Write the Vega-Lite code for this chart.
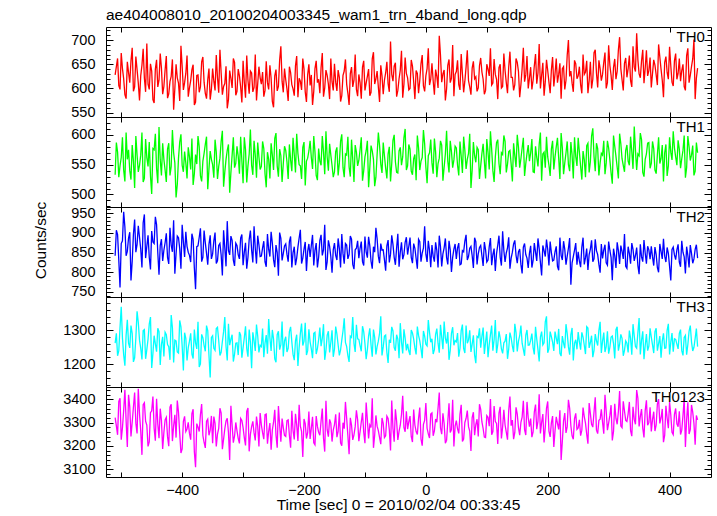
{
"$schema":"https://vega.github.io/schema/vega-lite/v6.json",
"background":"white",
"padding":{"left":33,"top":7,"right":5,"bottom":0},
"datasets":{"lc":[
{"t":-510,"a":628,"b":533,"c":842,"d":1262,"e":3322},
{"t":-506,"a":662,"b":571,"c":896,"d":1225,"e":3248},
{"t":-502,"a":598,"b":548,"c":761,"d":1308,"e":3405},
{"t":-498,"a":641,"b":596,"c":880,"d":1277,"e":3278},
{"t":-494,"a":587,"b":522,"c":915,"d":1196,"e":3441},
{"t":-490,"a":655,"b":559,"c":853,"d":1331,"e":3196},
{"t":-486,"a":612,"b":540,"c":902,"d":1248,"e":3368},
{"t":-482,"a":684,"b":583,"c":828,"d":1290,"e":3302},
{"t":-478,"a":603,"b":511,"c":934,"d":1219,"e":3429},
{"t":-474,"a":639,"b":566,"c":871,"d":1356,"e":3254},
{"t":-470,"a":575,"b":549,"c":889,"d":1271,"e":3337},
{"t":-466,"a":648,"b":604,"c":812,"d":1214,"e":3162},
{"t":-462,"a":621,"b":527,"c":947,"d":1302,"e":3385},
{"t":-458,"a":693,"b":562,"c":866,"d":1243,"e":3290},
{"t":-454,"a":598,"b":588,"c":838,"d":1318,"e":3218},
{"t":-450,"a":636,"b":501,"c":905,"d":1189,"e":3351},
{"t":-446,"a":570,"b":575,"c":873,"d":1284,"e":3276},
{"t":-442,"a":659,"b":544,"c":921,"d":1237,"e":3402},
{"t":-438,"a":617,"b":613,"c":794,"d":1296,"e":3233},
{"t":-434,"a":642,"b":532,"c":884,"d":1259,"e":3310},
{"t":-430,"a":604,"b":559,"c":856,"d":1223,"e":3258},
{"t":-426,"a":667,"b":521,"c":899,"d":1287,"e":3323},
{"t":-422,"a":589,"b":586,"c":821,"d":1252,"e":3199},
{"t":-418,"a":625,"b":547,"c":869,"d":1345,"e":3379},
{"t":-414,"a":556,"b":570,"c":932,"d":1205,"e":3287},
{"t":-410,"a":650,"b":495,"c":847,"d":1269,"e":3236},
{"t":-406,"a":611,"b":561,"c":888,"d":1233,"e":3344},
{"t":-402,"a":688,"b":601,"c":809,"d":1310,"e":3170},
{"t":-398,"a":597,"b":538,"c":878,"d":1182,"e":3306},
{"t":-394,"a":631,"b":553,"c":903,"d":1276,"e":3262},
{"t":-390,"a":583,"b":579,"c":851,"d":1249,"e":3301},
{"t":-386,"a":616,"b":542,"c":826,"d":1291,"e":3227},
{"t":-382,"a":649,"b":516,"c":884,"d":1217,"e":3358},
{"t":-378,"a":572,"b":567,"c":757,"d":1263,"e":3109},
{"t":-374,"a":628,"b":598,"c":867,"d":1325,"e":3281},
{"t":-370,"a":603,"b":531,"c":912,"d":1201,"e":3334},
{"t":-366,"a":665,"b":556,"c":838,"d":1278,"e":3245},
{"t":-362,"a":590,"b":584,"c":875,"d":1238,"e":3192},
{"t":-358,"a":618,"b":509,"c":819,"d":1299,"e":3315},
{"t":-354,"a":577,"b":573,"c":894,"d":1161,"e":3268},
{"t":-350,"a":641,"b":550,"c":846,"d":1284,"e":3212},
{"t":-346,"a":596,"b":592,"c":901,"d":1241,"e":3297},
{"t":-342,"a":622,"b":526,"c":829,"d":1309,"e":3251},
{"t":-338,"a":680,"b":561,"c":873,"d":1226,"e":3362},
{"t":-334,"a":587,"b":607,"c":792,"d":1267,"e":3186},
{"t":-330,"a":610,"b":538,"c":862,"d":1339,"e":3274},
{"t":-326,"a":559,"b":574,"c":930,"d":1211,"e":3319},
{"t":-322,"a":637,"b":503,"c":844,"d":1256,"e":3140},
{"t":-318,"a":601,"b":566,"c":881,"d":1287,"e":3288},
{"t":-314,"a":654,"b":545,"c":816,"d":1230,"e":3243},
{"t":-310,"a":594,"b":581,"c":868,"d":1263,"e":3265},
{"t":-306,"a":626,"b":535,"c":834,"d":1295,"e":3211},
{"t":-302,"a":571,"b":557,"c":896,"d":1219,"e":3309},
{"t":-298,"a":613,"b":596,"c":851,"d":1278,"e":3236},
{"t":-294,"a":668,"b":520,"c":809,"d":1246,"e":3348},
{"t":-290,"a":589,"b":568,"c":883,"d":1302,"e":3177},
{"t":-286,"a":632,"b":549,"c":857,"d":1188,"e":3283},
{"t":-282,"a":602,"b":590,"c":917,"d":1270,"e":3256},
{"t":-278,"a":575,"b":528,"c":822,"d":1317,"e":3326},
{"t":-274,"a":645,"b":563,"c":870,"d":1235,"e":3198},
{"t":-270,"a":609,"b":547,"c":841,"d":1252,"e":3290},
{"t":-266,"a":583,"b":577,"c":879,"d":1221,"e":3229},
{"t":-262,"a":656,"b":512,"c":814,"d":1286,"e":3337},
{"t":-258,"a":598,"b":559,"c":858,"d":1333,"e":3263},
{"t":-254,"a":621,"b":586,"c":903,"d":1239,"e":3184},
{"t":-250,"a":561,"b":541,"c":832,"d":1274,"e":3302},
{"t":-246,"a":639,"b":603,"c":869,"d":1206,"e":3247},
{"t":-242,"a":604,"b":530,"c":791,"d":1297,"e":3371},
{"t":-238,"a":687,"b":565,"c":886,"d":1258,"e":3218},
{"t":-234,"a":592,"b":552,"c":848,"d":1223,"e":3279},
{"t":-230,"a":618,"b":574,"c":872,"d":1281,"e":3241},
{"t":-226,"a":574,"b":526,"c":827,"d":1247,"e":3312},
{"t":-222,"a":633,"b":558,"c":891,"d":1310,"e":3193},
{"t":-218,"a":599,"b":595,"c":850,"d":1229,"e":3267},
{"t":-214,"a":647,"b":537,"c":818,"d":1269,"e":3338},
{"t":-210,"a":582,"b":569,"c":864,"d":1195,"e":3222},
{"t":-206,"a":615,"b":548,"c":908,"d":1291,"e":3285},
{"t":-202,"a":662,"b":579,"c":836,"d":1255,"e":3153},
{"t":-198,"a":593,"b":515,"c":877,"d":1322,"e":3296},
{"t":-194,"a":628,"b":561,"c":853,"d":1240,"e":3257},
{"t":-190,"a":606,"b":590,"c":839,"d":1266,"e":3230},
{"t":-186,"a":566,"b":543,"c":895,"d":1218,"e":3325},
{"t":-182,"a":641,"b":571,"c":856,"d":1294,"e":3205},
{"t":-178,"a":612,"b":524,"c":812,"d":1246,"e":3284},
{"t":-174,"a":590,"b":556,"c":881,"d":1308,"e":3246},
{"t":-170,"a":673,"b":598,"c":843,"d":1277,"e":3361},
{"t":-166,"a":601,"b":534,"c":921,"d":1213,"e":3176},
{"t":-162,"a":627,"b":563,"c":826,"d":1285,"e":3270},
{"t":-158,"a":578,"b":585,"c":866,"d":1235,"e":3314},
{"t":-154,"a":614,"b":549,"c":799,"d":1300,"e":3219},
{"t":-150,"a":651,"b":538,"c":874,"d":1244,"e":3292},
{"t":-146,"a":595,"b":579,"c":831,"d":1289,"e":3238},
{"t":-142,"a":623,"b":553,"c":860,"d":1226,"e":3343},
{"t":-138,"a":585,"b":601,"c":897,"d":1271,"e":3201},
{"t":-134,"a":636,"b":529,"c":822,"d":1335,"e":3274},
{"t":-130,"a":609,"b":566,"c":869,"d":1252,"e":3319},
{"t":-126,"a":566,"b":546,"c":845,"d":1207,"e":3165},
{"t":-122,"a":644,"b":592,"c":884,"d":1279,"e":3289},
{"t":-118,"a":617,"b":521,"c":808,"d":1261,"e":3248},
{"t":-114,"a":598,"b":571,"c":861,"d":1316,"e":3353},
{"t":-110,"a":629,"b":557,"c":836,"d":1273,"e":3221},
{"t":-106,"a":579,"b":596,"c":878,"d":1238,"e":3303},
{"t":-102,"a":657,"b":540,"c":817,"d":1296,"e":3259},
{"t":-98,"a":611,"b":573,"c":852,"d":1215,"e":3386},
{"t":-94,"a":640,"b":512,"c":890,"d":1283,"e":3232},
{"t":-90,"a":592,"b":582,"c":828,"d":1257,"e":3279},
{"t":-86,"a":675,"b":559,"c":865,"d":1302,"e":3192},
{"t":-82,"a":620,"b":529,"c":913,"d":1229,"e":3331},
{"t":-78,"a":603,"b":604,"c":841,"d":1268,"e":3266},
{"t":-74,"a":648,"b":551,"c":873,"d":1341,"e":3208},
{"t":-70,"a":588,"b":587,"c":857,"d":1251,"e":3297},
{"t":-66,"a":632,"b":544,"c":804,"d":1286,"e":3244},
{"t":-62,"a":610,"b":568,"c":882,"d":1204,"e":3318},
{"t":-58,"a":697,"b":522,"c":846,"d":1263,"e":3181},
{"t":-54,"a":615,"b":591,"c":871,"d":1298,"e":3275},
{"t":-50,"a":653,"b":555,"c":819,"d":1240,"e":3357},
{"t":-46,"a":596,"b":536,"c":898,"d":1274,"e":3226},
{"t":-42,"a":638,"b":579,"c":851,"d":1321,"e":3289},
{"t":-38,"a":581,"b":563,"c":833,"d":1232,"e":3415},
{"t":-34,"a":664,"b":610,"c":876,"d":1277,"e":3261},
{"t":-30,"a":622,"b":548,"c":845,"d":1260,"e":3272},
{"t":-26,"a":600,"b":576,"c":888,"d":1227,"e":3328},
{"t":-22,"a":646,"b":533,"c":823,"d":1292,"e":3217},
{"t":-18,"a":578,"b":567,"c":861,"d":1248,"e":3290},
{"t":-14,"a":631,"b":599,"c":809,"d":1311,"e":3249},
{"t":-10,"a":617,"b":541,"c":878,"d":1269,"e":3365},
{"t":-6,"a":669,"b":562,"c":849,"d":1218,"e":3201},
{"t":-2,"a":594,"b":585,"c":917,"d":1283,"e":3310},
{"t":2,"a":641,"b":519,"c":826,"d":1254,"e":3276},
{"t":6,"a":607,"b":570,"c":856,"d":1293,"e":3234},
{"t":10,"a":652,"b":553,"c":869,"d":1275,"e":3342},
{"t":14,"a":587,"b":594,"c":827,"d":1243,"e":3265},
{"t":18,"a":625,"b":529,"c":855,"d":1305,"e":3302},
{"t":22,"a":709,"b":561,"c":893,"d":1234,"e":3429},
{"t":26,"a":613,"b":583,"c":815,"d":1280,"e":3251},
{"t":30,"a":638,"b":546,"c":862,"d":1326,"e":3296},
{"t":34,"a":599,"b":607,"c":838,"d":1261,"e":3224},
{"t":38,"a":660,"b":537,"c":880,"d":1213,"e":3383},
{"t":42,"a":621,"b":572,"c":801,"d":1291,"e":3270},
{"t":46,"a":584,"b":558,"c":859,"d":1256,"e":3198},
{"t":50,"a":635,"b":578,"c":834,"d":1266,"e":3309},
{"t":54,"a":608,"b":532,"c":874,"d":1222,"e":3254},
{"t":58,"a":671,"b":564,"c":821,"d":1299,"e":3377},
{"t":62,"a":592,"b":597,"c":852,"d":1247,"e":3230},
{"t":66,"a":644,"b":543,"c":895,"d":1314,"e":3318},
{"t":70,"a":616,"b":569,"c":840,"d":1271,"e":3283},
{"t":74,"a":587,"b":511,"c":866,"d":1236,"e":3179},
{"t":78,"a":656,"b":588,"c":811,"d":1285,"e":3345},
{"t":82,"a":624,"b":554,"c":878,"d":1203,"e":3292},
{"t":86,"a":601,"b":575,"c":847,"d":1279,"e":3241},
{"t":90,"a":663,"b":548,"c":868,"d":1249,"e":3357},
{"t":94,"a":619,"b":585,"c":816,"d":1308,"e":3275},
{"t":98,"a":596,"b":527,"c":857,"d":1265,"e":3236},
{"t":102,"a":640,"b":571,"c":831,"d":1221,"e":3323},
{"t":106,"a":683,"b":606,"c":887,"d":1287,"e":3401},
{"t":110,"a":611,"b":540,"c":845,"d":1240,"e":3262},
{"t":114,"a":629,"b":563,"c":803,"d":1330,"e":3305},
{"t":118,"a":578,"b":592,"c":869,"d":1258,"e":3209},
{"t":122,"a":650,"b":534,"c":838,"d":1277,"e":3368},
{"t":126,"a":604,"b":567,"c":904,"d":1232,"e":3282},
{"t":130,"a":637,"b":589,"c":826,"d":1268,"e":3290},
{"t":134,"a":590,"b":551,"c":862,"d":1216,"e":3227},
{"t":138,"a":676,"b":574,"c":809,"d":1293,"e":3412},
{"t":142,"a":623,"b":522,"c":851,"d":1253,"e":3311},
{"t":146,"a":608,"b":565,"c":881,"d":1319,"e":3258},
{"t":150,"a":654,"b":600,"c":823,"d":1238,"e":3337},
{"t":154,"a":582,"b":545,"c":859,"d":1284,"e":3246},
{"t":158,"a":641,"b":578,"c":797,"d":1262,"e":3324},
{"t":162,"a":614,"b":531,"c":873,"d":1225,"e":3270},
{"t":166,"a":667,"b":569,"c":836,"d":1301,"e":3389},
{"t":170,"a":621,"b":556,"c":848,"d":1257,"e":3283},
{"t":174,"a":598,"b":593,"c":812,"d":1290,"e":3238},
{"t":178,"a":647,"b":537,"c":874,"d":1229,"e":3346},
{"t":182,"a":610,"b":562,"c":829,"d":1274,"e":3272},
{"t":186,"a":692,"b":584,"c":860,"d":1208,"e":3422},
{"t":190,"a":627,"b":523,"c":792,"d":1296,"e":3301},
{"t":194,"a":585,"b":571,"c":855,"d":1263,"e":3215},
{"t":198,"a":659,"b":597,"c":883,"d":1341,"e":3362},
{"t":202,"a":613,"b":549,"c":817,"d":1245,"e":3264},
{"t":206,"a":638,"b":576,"c":850,"d":1281,"e":3299},
{"t":210,"a":604,"b":542,"c":831,"d":1239,"e":3196},
{"t":214,"a":662,"b":580,"c":866,"d":1277,"e":3325},
{"t":218,"a":629,"b":561,"c":805,"d":1304,"e":3271},
{"t":222,"a":579,"b":603,"c":843,"d":1224,"e":3140},
{"t":226,"a":645,"b":534,"c":879,"d":1262,"e":3308},
{"t":230,"a":617,"b":570,"c":819,"d":1318,"e":3256},
{"t":234,"a":700,"b":550,"c":861,"d":1251,"e":3398},
{"t":238,"a":636,"b":588,"c":768,"d":1287,"e":3287},
{"t":242,"a":593,"b":527,"c":840,"d":1211,"e":3229},
{"t":246,"a":651,"b":564,"c":874,"d":1272,"e":3340},
{"t":250,"a":626,"b":595,"c":852,"d":1295,"e":3277},
{"t":254,"a":608,"b":547,"c":813,"d":1243,"e":3244},
{"t":258,"a":670,"b":573,"c":888,"d":1280,"e":3365},
{"t":262,"a":634,"b":529,"c":837,"d":1230,"e":3298},
{"t":266,"a":590,"b":586,"c":806,"d":1307,"e":3210},
{"t":270,"a":655,"b":555,"c":859,"d":1264,"e":3339},
{"t":274,"a":619,"b":611,"c":827,"d":1221,"e":3281},
{"t":278,"a":680,"b":539,"c":884,"d":1289,"e":3409},
{"t":282,"a":602,"b":577,"c":845,"d":1255,"e":3253},
{"t":286,"a":641,"b":553,"c":799,"d":1325,"e":3315},
{"t":290,"a":629,"b":566,"c":835,"d":1268,"e":3302},
{"t":294,"a":674,"b":534,"c":870,"d":1236,"e":3420},
{"t":298,"a":612,"b":590,"c":818,"d":1297,"e":3268},
{"t":302,"a":648,"b":558,"c":856,"d":1250,"e":3331},
{"t":306,"a":597,"b":518,"c":780,"d":1283,"e":3224},
{"t":310,"a":661,"b":581,"c":842,"d":1217,"e":3381},
{"t":314,"a":635,"b":546,"c":876,"d":1310,"e":3293},
{"t":318,"a":706,"b":602,"c":821,"d":1259,"e":3436},
{"t":322,"a":618,"b":560,"c":853,"d":1276,"e":3279},
{"t":326,"a":652,"b":538,"c":897,"d":1241,"e":3350},
{"t":330,"a":623,"b":583,"c":810,"d":1262,"e":3305},
{"t":334,"a":668,"b":549,"c":848,"d":1299,"e":3389},
{"t":338,"a":603,"b":572,"c":874,"d":1228,"e":3242},
{"t":342,"a":644,"b":614,"c":829,"d":1284,"e":3314},
{"t":346,"a":714,"b":541,"c":863,"d":1247,"e":3440},
{"t":350,"a":630,"b":565,"c":795,"d":1336,"e":3284},
{"t":354,"a":657,"b":592,"c":839,"d":1271,"e":3358},
{"t":358,"a":611,"b":530,"c":882,"d":1215,"e":3237},
{"t":362,"a":679,"b":568,"c":822,"d":1289,"e":3396},
{"t":366,"a":637,"b":587,"c":857,"d":1253,"e":3300},
{"t":370,"a":602,"b":552,"c":866,"d":1280,"e":3262},
{"t":374,"a":659,"b":577,"c":817,"d":1233,"e":3347},
{"t":378,"a":628,"b":535,"c":845,"d":1306,"e":3290},
{"t":382,"a":691,"b":596,"c":800,"d":1261,"e":3401},
{"t":386,"a":640,"b":560,"c":853,"d":1219,"e":3320},
{"t":390,"a":582,"b":522,"c":885,"d":1291,"e":3216},
{"t":394,"a":666,"b":584,"c":826,"d":1248,"e":3372},
{"t":398,"a":619,"b":548,"c":848,"d":1319,"e":3276},
{"t":402,"a":647,"b":571,"c":779,"d":1265,"e":3333},
{"t":406,"a":605,"b":606,"c":864,"d":1237,"e":3249},
{"t":410,"a":672,"b":563,"c":832,"d":1273,"e":3361},
{"t":414,"a":631,"b":591,"c":871,"d":1245,"e":3283},
{"t":418,"a":615,"b":544,"c":814,"d":1302,"e":3249},
{"t":422,"a":650,"b":574,"c":851,"d":1226,"e":3330},
{"t":426,"a":596,"b":528,"c":797,"d":1285,"e":3196},
{"t":430,"a":683,"b":598,"c":843,"d":1258,"e":3387},
{"t":434,"a":627,"b":557,"c":869,"d":1314,"e":3270},
{"t":438,"a":661,"b":582,"c":823,"d":1239,"e":3345},
{"t":442,"a":578,"b":539,"c":858,"d":1276,"e":3205},
{"t":446,"a":642,"b":570,"c":836,"d":1252,"e":3312},
{"t":-508,"a":645,"b":587,"c":907,"d":1291,"e":3286},
{"t":-504,"a":606,"b":529,"c":831,"d":1240,"e":3391},
{"t":-500,"a":673,"b":562,"c":873,"d":1369,"e":3227},
{"t":-496,"a":620,"b":541,"c":954,"d":1228,"e":3352},
{"t":-492,"a":579,"b":604,"c":842,"d":1285,"e":3308},
{"t":-488,"a":633,"b":575,"c":887,"d":1262,"e":3420},
{"t":-484,"a":657,"b":525,"c":779,"d":1314,"e":3241},
{"t":-480,"a":594,"b":556,"c":896,"d":1207,"e":3366},
{"t":-476,"a":666,"b":598,"c":851,"d":1278,"e":3298},
{"t":-472,"a":611,"b":538,"c":918,"d":1323,"e":3445},
{"t":-468,"a":626,"b":566,"c":859,"d":1247,"e":3264},
{"t":-464,"a":682,"b":521,"c":926,"d":1299,"e":3377},
{"t":-460,"a":593,"b":593,"c":836,"d":1216,"e":3306},
{"t":-456,"a":609,"b":547,"c":894,"d":1274,"e":3198},
{"t":-452,"a":651,"b":531,"c":807,"d":1339,"e":3343},
{"t":-448,"a":577,"b":577,"c":877,"d":1232,"e":3412},
{"t":-444,"a":640,"b":602,"c":941,"d":1260,"e":3223},
{"t":-440,"a":603,"b":519,"c":850,"d":1306,"e":3295},
{"t":-436,"a":672,"b":558,"c":868,"d":1198,"e":3360},
{"t":-432,"a":588,"b":586,"c":829,"d":1281,"e":3187},
{"t":-428,"a":638,"b":541,"c":875,"d":1294,"e":3312},
{"t":-424,"a":580,"b":576,"c":838,"d":1258,"e":3240},
{"t":-420,"a":614,"b":532,"c":913,"d":1213,"e":3367},
{"t":-416,"a":660,"b":608,"c":852,"d":1307,"e":3221},
{"t":-412,"a":600,"b":553,"c":796,"d":1271,"e":3334},
{"t":-408,"a":622,"b":517,"c":892,"d":1236,"e":3395},
{"t":-404,"a":574,"b":588,"c":860,"d":1329,"e":3253},
{"t":-400,"a":646,"b":549,"c":921,"d":1254,"e":3188},
{"t":-396,"a":612,"b":572,"c":839,"d":1293,"e":3327},
{"t":-392,"a":668,"b":527,"c":866,"d":1211,"e":3273},
{"t":-388,"a":601,"b":563,"c":843,"d":1268,"e":3254},
{"t":-384,"a":639,"b":594,"c":898,"d":1230,"e":3339},
{"t":-380,"a":566,"b":535,"c":811,"d":1302,"e":3175},
{"t":-376,"a":627,"b":551,"c":865,"d":1245,"e":3296},
{"t":-372,"a":592,"b":580,"c":889,"d":1192,"e":3262},
{"t":-368,"a":655,"b":522,"c":827,"d":1288,"e":3380},
{"t":-364,"a":613,"b":569,"c":906,"d":1255,"e":3215},
{"t":-360,"a":579,"b":597,"c":848,"d":1314,"e":3306},
{"t":-356,"a":641,"b":543,"c":871,"d":1226,"e":3246},
{"t":-352,"a":598,"b":559,"c":834,"d":1279,"e":3329},
{"t":-348,"a":615,"b":528,"c":880,"d":1247,"e":3326},
{"t":-344,"a":669,"b":571,"c":822,"d":1305,"e":3198},
{"t":-340,"a":591,"b":547,"c":868,"d":1270,"e":3275},
{"t":-336,"a":632,"b":589,"c":844,"d":1235,"e":3341},
{"t":-332,"a":604,"b":513,"c":907,"d":1296,"e":3229},
{"t":-328,"a":646,"b":559,"c":815,"d":1253,"e":3307},
{"t":-324,"a":577,"b":584,"c":855,"d":1319,"e":3257},
{"t":-320,"a":621,"b":537,"c":892,"d":1274,"e":3372},
{"t":-316,"a":662,"b":596,"c":831,"d":1208,"e":3214},
{"t":-312,"a":586,"b":552,"c":874,"d":1262,"e":3301},
{"t":-308,"a":640,"b":564,"c":845,"d":1227,"e":3233},
{"t":-304,"a":603,"b":597,"c":887,"d":1286,"e":3318},
{"t":-300,"a":657,"b":519,"c":818,"d":1249,"e":3279},
{"t":-296,"a":581,"b":575,"c":875,"d":1312,"e":3202},
{"t":-292,"a":617,"b":548,"c":838,"d":1222,"e":3363},
{"t":-288,"a":636,"b":609,"c":906,"d":1265,"e":3250},
{"t":-284,"a":593,"b":533,"c":825,"d":1294,"e":3306},
{"t":-280,"a":670,"b":566,"c":861,"d":1239,"e":3224},
{"t":-276,"a":610,"b":587,"c":893,"d":1283,"e":3284},
{"t":-272,"a":622,"b":542,"c":840,"d":1256,"e":3341},
{"t":-268,"a":634,"b":589,"c":862,"d":1305,"e":3257},
{"t":-264,"a":596,"b":535,"c":826,"d":1262,"e":3334},
{"t":-260,"a":612,"b":571,"c":897,"d":1231,"e":3210},
{"t":-256,"a":648,"b":527,"c":840,"d":1278,"e":3298},
{"t":-252,"a":573,"b":566,"c":874,"d":1301,"e":3268},
{"t":-248,"a":626,"b":594,"c":813,"d":1216,"e":3355},
{"t":-244,"a":595,"b":548,"c":850,"d":1287,"e":3193},
{"t":-240,"a":658,"b":576,"c":901,"d":1243,"e":3289},
{"t":-236,"a":615,"b":521,"c":830,"d":1326,"e":3318},
{"t":-232,"a":641,"b":581,"c":867,"d":1269,"e":3245},
{"t":-228,"a":599,"b":555,"c":846,"d":1236,"e":3309},
{"t":-224,"a":645,"b":584,"c":878,"d":1296,"e":3246},
{"t":-220,"a":608,"b":539,"c":812,"d":1266,"e":3351},
{"t":-216,"a":585,"b":567,"c":865,"d":1212,"e":3228},
{"t":-212,"a":667,"b":602,"c":836,"d":1287,"e":3290},
{"t":-208,"a":621,"b":550,"c":887,"d":1249,"e":3377},
{"t":-204,"a":597,"b":526,"c":822,"d":1320,"e":3263},
{"t":-200,"a":640,"b":588,"c":859,"d":1268,"e":3316},
{"t":-196,"a":572,"b":556,"c":803,"d":1227,"e":3232},
{"t":-192,"a":650,"b":573,"c":872,"d":1303,"e":3348},
{"t":-188,"a":628,"b":562,"c":868,"d":1245,"e":3276},
{"t":-184,"a":594,"b":598,"c":817,"d":1291,"e":3214},
{"t":-180,"a":657,"b":532,"c":874,"d":1230,"e":3328},
{"t":-176,"a":619,"b":577,"c":838,"d":1272,"e":3259},
{"t":-172,"a":643,"b":549,"c":895,"d":1253,"e":3307},
{"t":-168,"a":583,"b":571,"c":857,"d":1318,"e":3233},
{"t":-164,"a":638,"b":606,"c":806,"d":1241,"e":3394},
{"t":-160,"a":609,"b":540,"c":881,"d":1297,"e":3240},
{"t":-156,"a":662,"b":566,"c":840,"d":1264,"e":3297},
{"t":-152,"a":596,"b":529,"c":857,"d":1222,"e":3268},
{"t":-148,"a":613,"b":572,"c":843,"d":1311,"e":3336},
{"t":-144,"a":638,"b":532,"c":886,"d":1257,"e":3262},
{"t":-140,"a":573,"b":589,"c":812,"d":1242,"e":3213},
{"t":-136,"a":627,"b":545,"c":848,"d":1298,"e":3300},
{"t":-132,"a":660,"b":568,"c":873,"d":1264,"e":3389},
{"t":-128,"a":590,"b":597,"c":834,"d":1225,"e":3245},
{"t":-124,"a":631,"b":530,"c":892,"d":1283,"e":3321},
{"t":-120,"a":603,"b":559,"c":820,"d":1339,"e":3226},
{"t":-116,"a":670,"b":583,"c":857,"d":1236,"e":3283},
{"t":-112,"a":584,"b":548,"c":880,"d":1275,"e":3312},
{"t":-108,"a":612,"b":575,"c":861,"d":1255,"e":3261},
{"t":-104,"a":644,"b":523,"c":827,"d":1312,"e":3342},
{"t":-100,"a":596,"b":563,"c":891,"d":1261,"e":3212},
{"t":-96,"a":625,"b":590,"c":837,"d":1243,"e":3311},
{"t":-92,"a":585,"b":545,"c":867,"d":1306,"e":3290},
{"t":-88,"a":661,"b":573,"c":809,"d":1222,"e":3405},
{"t":-84,"a":609,"b":514,"c":851,"d":1279,"e":3247},
{"t":-80,"a":636,"b":567,"c":885,"d":1252,"e":3285},
{"t":-76,"a":572,"b":582,"c":823,"d":1291,"e":3237},
{"t":-72,"a":626,"b":536,"c":856,"d":1226,"e":3320},
{"t":-68,"a":617,"b":565,"c":832,"d":1283,"e":3236},
{"t":-64,"a":655,"b":527,"c":867,"d":1235,"e":3328},
{"t":-60,"a":593,"b":580,"c":825,"d":1272,"e":3270},
{"t":-56,"a":629,"b":552,"c":894,"d":1310,"e":3395},
{"t":-52,"a":646,"b":600,"c":838,"d":1249,"e":3218},
{"t":-48,"a":583,"b":537,"c":862,"d":1287,"e":3306},
{"t":-44,"a":620,"b":573,"c":814,"d":1218,"e":3263},
{"t":-40,"a":678,"b":549,"c":876,"d":1266,"e":3335},
{"t":-36,"a":609,"b":595,"c":845,"d":1303,"e":3280},
{"t":-32,"a":631,"b":541,"c":889,"d":1241,"e":3349},
{"t":-28,"a":597,"b":584,"c":866,"d":1239,"e":3304},
{"t":-24,"a":659,"b":539,"c":838,"d":1301,"e":3241},
{"t":-20,"a":614,"b":560,"c":873,"d":1274,"e":3356},
{"t":-16,"a":637,"b":524,"c":835,"d":1229,"e":3262},
{"t":-12,"a":590,"b":578,"c":884,"d":1285,"e":3318},
{"t":-8,"a":651,"b":556,"c":827,"d":1246,"e":3230},
{"t":-4,"a":605,"b":608,"c":861,"d":1298,"e":3293},
{"t":0,"a":626,"b":546,"c":846,"d":1259,"e":3384},
{"t":4,"a":683,"b":565,"c":880,"d":1330,"e":3252},
{"t":8,"a":619,"b":592,"c":813,"d":1265,"e":3337},
{"t":12,"a":616,"b":535,"c":841,"d":1230,"e":3244},
{"t":16,"a":639,"b":571,"c":876,"d":1288,"e":3316},
{"t":20,"a":601,"b":552,"c":812,"d":1262,"e":3363},
{"t":24,"a":668,"b":590,"c":865,"d":1316,"e":3277},
{"t":28,"a":630,"b":523,"c":847,"d":1244,"e":3340},
{"t":32,"a":575,"b":568,"c":886,"d":1277,"e":3212},
{"t":36,"a":648,"b":556,"c":820,"d":1295,"e":3305},
{"t":40,"a":612,"b":590,"c":857,"d":1241,"e":3258},
{"t":44,"a":690,"b":545,"c":838,"d":1309,"e":3398},
{"t":48,"a":629,"b":581,"c":872,"d":1270,"e":3285},
{"t":52,"a":658,"b":549,"c":862,"d":1292,"e":3273},
{"t":56,"a":597,"b":589,"c":819,"d":1247,"e":3336},
{"t":60,"a":630,"b":536,"c":855,"d":1317,"e":3219},
{"t":64,"a":615,"b":574,"c":879,"d":1233,"e":3301},
{"t":68,"a":679,"b":559,"c":831,"d":1262,"e":3352},
{"t":72,"a":603,"b":602,"c":861,"d":1300,"e":3264},
{"t":76,"a":642,"b":541,"c":842,"d":1259,"e":3322},
{"t":80,"a":620,"b":565,"c":888,"d":1227,"e":3246},
{"t":84,"a":594,"b":579,"c":820,"d":1282,"e":3315},
{"t":88,"a":647,"b":526,"c":863,"d":1306,"e":3379},
{"t":92,"a":634,"b":569,"c":842,"d":1282,"e":3303},
{"t":96,"a":588,"b":556,"c":877,"d":1230,"e":3238},
{"t":100,"a":650,"b":593,"c":826,"d":1296,"e":3330},
{"t":104,"a":626,"b":542,"c":865,"d":1258,"e":3285},
{"t":108,"a":607,"b":576,"c":818,"d":1314,"e":3248},
{"t":112,"a":661,"b":521,"c":860,"d":1272,"e":3371},
{"t":116,"a":619,"b":587,"c":847,"d":1233,"e":3297},
{"t":120,"a":643,"b":552,"c":893,"d":1297,"e":3341},
{"t":124,"a":601,"b":570,"c":817,"d":1245,"e":3232},
{"t":128,"a":672,"b":599,"c":855,"d":1263,"e":3355},
{"t":132,"a":612,"b":537,"c":849,"d":1289,"e":3259},
{"t":136,"a":645,"b":572,"c":889,"d":1245,"e":3353},
{"t":140,"a":623,"b":551,"c":836,"d":1278,"e":3287},
{"t":144,"a":596,"b":586,"c":872,"d":1236,"e":3229},
{"t":148,"a":662,"b":546,"c":843,"d":1293,"e":3366},
{"t":152,"a":635,"b":579,"c":852,"d":1268,"e":3279},
{"t":156,"a":608,"b":560,"c":820,"d":1314,"e":3301},
{"t":160,"a":684,"b":595,"c":864,"d":1244,"e":3394},
{"t":164,"a":628,"b":552,"c":845,"d":1286,"e":3247},
{"t":168,"a":600,"b":583,"c":811,"d":1256,"e":3321},
{"t":172,"a":644,"b":570,"c":867,"d":1271,"e":3318},
{"t":176,"a":617,"b":538,"c":830,"d":1249,"e":3260},
{"t":180,"a":671,"b":581,"c":851,"d":1310,"e":3378},
{"t":184,"a":632,"b":547,"c":886,"d":1243,"e":3306},
{"t":188,"a":600,"b":604,"c":825,"d":1280,"e":3254},
{"t":192,"a":653,"b":568,"c":868,"d":1257,"e":3337},
{"t":196,"a":614,"b":545,"c":840,"d":1325,"e":3280},
{"t":200,"a":637,"b":563,"c":858,"d":1234,"e":3391},
{"t":204,"a":590,"b":531,"c":878,"d":1296,"e":3239},
{"t":208,"a":665,"b":590,"c":829,"d":1265,"e":3328},
{"t":212,"a":630,"b":563,"c":852,"d":1296,"e":3266},
{"t":216,"a":612,"b":595,"c":815,"d":1259,"e":3297},
{"t":220,"a":652,"b":526,"c":888,"d":1232,"e":3353},
{"t":224,"a":641,"b":578,"c":831,"d":1283,"e":3220},
{"t":228,"a":598,"b":553,"c":858,"d":1247,"e":3341},
{"t":232,"a":669,"b":589,"c":841,"d":1290,"e":3283},
{"t":236,"a":625,"b":539,"c":887,"d":1228,"e":3362},
{"t":240,"a":611,"b":566,"c":824,"d":1307,"e":3244},
{"t":244,"a":658,"b":596,"c":856,"d":1262,"e":3318},
{"t":248,"a":620,"b":548,"c":819,"d":1244,"e":3271},
{"t":252,"a":645,"b":571,"c":828,"d":1266,"e":3312},
{"t":256,"a":590,"b":525,"c":864,"d":1294,"e":3268},
{"t":260,"a":629,"b":558,"c":820,"d":1256,"e":3326},
{"t":264,"a":657,"b":582,"c":860,"d":1311,"e":3251},
{"t":268,"a":616,"b":537,"c":845,"d":1248,"e":3384},
{"t":272,"a":600,"b":598,"c":881,"d":1284,"e":3293},
{"t":276,"a":674,"b":564,"c":834,"d":1241,"e":3346},
{"t":280,"a":632,"b":586,"c":855,"d":1269,"e":3268},
{"t":284,"a":658,"b":532,"c":820,"d":1300,"e":3310},
{"t":288,"a":616,"b":569,"c":872,"d":1233,"e":3357},
{"t":292,"a":654,"b":590,"c":857,"d":1293,"e":3253},
{"t":296,"a":600,"b":553,"c":824,"d":1252,"e":3349},
{"t":300,"a":689,"b":578,"c":878,"d":1231,"e":3298},
{"t":304,"a":627,"b":536,"c":838,"d":1280,"e":3375},
{"t":308,"a":643,"b":599,"c":860,"d":1261,"e":3262},
{"t":312,"a":619,"b":564,"c":811,"d":1302,"e":3318},
{"t":316,"a":680,"b":527,"c":855,"d":1240,"e":3348},
{"t":320,"a":641,"b":585,"c":868,"d":1288,"e":3286},
{"t":324,"a":596,"b":549,"c":834,"d":1225,"e":3392},
{"t":328,"a":663,"b":574,"c":815,"d":1269,"e":3310},
{"t":332,"a":641,"b":556,"c":865,"d":1235,"e":3338},
{"t":336,"a":616,"b":597,"c":822,"d":1276,"e":3266},
{"t":340,"a":687,"b":543,"c":858,"d":1318,"e":3368},
{"t":344,"a":635,"b":574,"c":842,"d":1252,"e":3293},
{"t":348,"a":659,"b":568,"c":817,"d":1293,"e":3405},
{"t":352,"a":622,"b":603,"c":871,"d":1229,"e":3327},
{"t":356,"a":680,"b":537,"c":827,"d":1297,"e":3276},
{"t":360,"a":642,"b":559,"c":849,"d":1255,"e":3352},
{"t":364,"a":626,"b":586,"c":866,"d":1240,"e":3289},
{"t":368,"a":664,"b":544,"c":833,"d":1306,"e":3366},
{"t":372,"a":631,"b":589,"c":839,"d":1257,"e":3313},
{"t":376,"a":648,"b":541,"c":864,"d":1296,"e":3264},
{"t":380,"a":607,"b":567,"c":812,"d":1240,"e":3381},
{"t":384,"a":665,"b":552,"c":872,"d":1283,"e":3297},
{"t":388,"a":617,"b":583,"c":834,"d":1268,"e":3359},
{"t":392,"a":654,"b":570,"c":841,"d":1247,"e":3246},
{"t":396,"a":633,"b":531,"c":863,"d":1300,"e":3320},
{"t":400,"a":686,"b":596,"c":815,"d":1229,"e":3388},
{"t":404,"a":613,"b":558,"c":858,"d":1292,"e":3259},
{"t":408,"a":657,"b":578,"c":844,"d":1275,"e":3336},
{"t":412,"a":619,"b":549,"c":857,"d":1259,"e":3295},
{"t":416,"a":662,"b":576,"c":826,"d":1291,"e":3349},
{"t":420,"a":637,"b":560,"c":880,"d":1240,"e":3268},
{"t":424,"a":604,"b":599,"c":839,"d":1279,"e":3404},
{"t":428,"a":668,"b":545,"c":865,"d":1228,"e":3313},
{"t":432,"a":612,"b":580,"c":812,"d":1297,"e":3251},
{"t":436,"a":645,"b":566,"c":848,"d":1266,"e":3376},
{"t":440,"a":701,"b":532,"c":834,"d":1250,"e":3297},
{"t":444,"a":621,"b":587,"c":870,"d":1305,"e":3331}
]},
"data":{"name":"lc"},
"spacing":0,
"bounds":"flush",
"vconcat":[
{"width":605,"height":90,
 "title":{"text":"ae404008010_20100204003345_wam1_trn_4band_long.qdp","anchor":"start","frame":"group","font":"Liberation Sans","fontSize":15.5,"fontWeight":"normal","color":"black","baseline":"alphabetic","offset":-9},
 "layer":[
  {"mark":{"type":"line","color":"#ff0000","strokeWidth":1.3,"clip":true},
   "encoding":{"x":{"field":"t","type":"quantitative","scale":{"domain":[-525,468],"nice":false,"zero":false},"axis":{"orient":"bottom","values":[-500,-400,-300,-200,-100,0,100,200,300,400],"tickSize":-5,"labels":false,"title":null}},
    "y":{"field":"a","type":"quantitative","scale":{"domain":[541,727],"nice":false,"zero":false},"axis":{"orient":"left","values":[550,600,650,700],"format":"d","tickSize":-7,"labelPadding":18,"title":null}}}},
  {"mark":{"type":"line","opacity":0},
   "encoding":{"x":{"field":"t","type":"quantitative","axis":{"orient":"top","values":[-500,-400,-300,-200,-100,0,100,200,300,400],"tickSize":-5,"labels":false,"title":null}},
    "y":{"field":"a","type":"quantitative","axis":{"orient":"right","values":[550,600,650,700],"tickSize":-7,"labels":false,"title":null}}}},
  {"mark":{"type":"line","opacity":0},
   "encoding":{"x":{"field":"t","type":"quantitative","axis":null},
    "y":{"field":"a","type":"quantitative","axis":{"orient":"left","values":[550,560,570,580,590,600,610,620,630,640,650,660,670,680,690,700,710,720],"tickSize":-4,"labels":false,"title":null}}}},
  {"mark":{"type":"line","opacity":0},
   "encoding":{"x":{"field":"t","type":"quantitative","axis":null},
    "y":{"field":"a","type":"quantitative","axis":{"orient":"right","values":[550,560,570,580,590,600,610,620,630,640,650,660,670,680,690,700,710,720],"tickSize":-4,"labels":false,"title":null}}}},
  {"data":{"values":[{"lab":"TH0"}]},
   "mark":{"type":"text","align":"right","baseline":"top","dy":3,"font":"Liberation Sans","fontSize":15,"color":"black"},
   "encoding":{"x":{"datum":458,"type":"quantitative","axis":null},"y":{"datum":727,"type":"quantitative","axis":null},"text":{"field":"lab"}}}
 ],
 "resolve":{"axis":{"x":"independent","y":"independent"}}
},
{"width":605,"height":90,
 "layer":[
  {"mark":{"type":"line","color":"#00ff00","strokeWidth":1.3,"clip":true},
   "encoding":{"x":{"field":"t","type":"quantitative","scale":{"domain":[-525,468],"nice":false,"zero":false},"axis":{"orient":"bottom","values":[-500,-400,-300,-200,-100,0,100,200,300,400],"tickSize":-5,"labels":false,"title":null}},
    "y":{"field":"b","type":"quantitative","scale":{"domain":[479,630],"nice":false,"zero":false},"axis":{"orient":"left","values":[500,550,600],"format":"d","tickSize":-7,"labelPadding":18,"title":null}}}},
  {"mark":{"type":"line","opacity":0},
   "encoding":{"x":{"field":"t","type":"quantitative","axis":{"orient":"top","values":[-500,-400,-300,-200,-100,0,100,200,300,400],"tickSize":-5,"labels":false,"title":null}},
    "y":{"field":"b","type":"quantitative","axis":{"orient":"right","values":[500,550,600],"tickSize":-7,"labels":false,"title":null}}}},
  {"mark":{"type":"line","opacity":0},
   "encoding":{"x":{"field":"t","type":"quantitative","axis":null},
    "y":{"field":"b","type":"quantitative","axis":{"orient":"left","values":[480,490,500,510,520,530,540,550,560,570,580,590,600,610,620,630],"tickSize":-4,"labels":false,"title":null}}}},
  {"mark":{"type":"line","opacity":0},
   "encoding":{"x":{"field":"t","type":"quantitative","axis":null},
    "y":{"field":"b","type":"quantitative","axis":{"orient":"right","values":[480,490,500,510,520,530,540,550,560,570,580,590,600,610,620,630],"tickSize":-4,"labels":false,"title":null}}}},
  {"data":{"values":[{"lab":"TH1"}]},
   "mark":{"type":"text","align":"right","baseline":"top","dy":3,"font":"Liberation Sans","fontSize":15,"color":"black"},
   "encoding":{"x":{"datum":458,"type":"quantitative","axis":null},"y":{"datum":630,"type":"quantitative","axis":null},"text":{"field":"lab"}}}
 ],
 "resolve":{"axis":{"x":"independent","y":"independent"}}
},
{"width":605,"height":90,
 "layer":[
  {"mark":{"type":"line","color":"#0000ff","strokeWidth":1.3,"clip":true},
   "encoding":{"x":{"field":"t","type":"quantitative","scale":{"domain":[-525,468],"nice":false,"zero":false},"axis":{"orient":"bottom","values":[-500,-400,-300,-200,-100,0,100,200,300,400],"tickSize":-5,"labels":false,"title":null}},
    "y":{"field":"c","type":"quantitative","scale":{"domain":[737,966],"nice":false,"zero":false},"axis":{"orient":"left","values":[750,800,850,900,950],"format":"d","tickSize":-7,"labelPadding":18,"title":"Counts/sec","titlePadding":22,"titleY":33}}}},
  {"mark":{"type":"line","opacity":0},
   "encoding":{"x":{"field":"t","type":"quantitative","axis":{"orient":"top","values":[-500,-400,-300,-200,-100,0,100,200,300,400],"tickSize":-5,"labels":false,"title":null}},
    "y":{"field":"c","type":"quantitative","axis":{"orient":"right","values":[750,800,850,900,950],"tickSize":-7,"labels":false,"title":null}}}},
  {"mark":{"type":"line","opacity":0},
   "encoding":{"x":{"field":"t","type":"quantitative","axis":null},
    "y":{"field":"c","type":"quantitative","axis":{"orient":"left","values":[740,750,760,770,780,790,800,810,820,830,840,850,860,870,880,890,900,910,920,930,940,950,960],"tickSize":-4,"labels":false,"title":null}}}},
  {"mark":{"type":"line","opacity":0},
   "encoding":{"x":{"field":"t","type":"quantitative","axis":null},
    "y":{"field":"c","type":"quantitative","axis":{"orient":"right","values":[740,750,760,770,780,790,800,810,820,830,840,850,860,870,880,890,900,910,920,930,940,950,960],"tickSize":-4,"labels":false,"title":null}}}},
  {"data":{"values":[{"lab":"TH2"}]},
   "mark":{"type":"text","align":"right","baseline":"top","dy":3,"font":"Liberation Sans","fontSize":15,"color":"black"},
   "encoding":{"x":{"datum":458,"type":"quantitative","axis":null},"y":{"datum":966,"type":"quantitative","axis":null},"text":{"field":"lab"}}}
 ],
 "resolve":{"axis":{"x":"independent","y":"independent"}}
},
{"width":605,"height":90,
 "layer":[
  {"mark":{"type":"line","color":"#00ffff","strokeWidth":1.3,"clip":true},
   "encoding":{"x":{"field":"t","type":"quantitative","scale":{"domain":[-525,468],"nice":false,"zero":false},"axis":{"orient":"bottom","values":[-500,-400,-300,-200,-100,0,100,200,300,400],"tickSize":-5,"labels":false,"title":null}},
    "y":{"field":"d","type":"quantitative","scale":{"domain":[1133,1398],"nice":false,"zero":false},"axis":{"orient":"left","values":[1200,1300],"format":"d","tickSize":-7,"labelPadding":18,"title":null}}}},
  {"mark":{"type":"line","opacity":0},
   "encoding":{"x":{"field":"t","type":"quantitative","axis":{"orient":"top","values":[-500,-400,-300,-200,-100,0,100,200,300,400],"tickSize":-5,"labels":false,"title":null}},
    "y":{"field":"d","type":"quantitative","axis":{"orient":"right","values":[1200,1300],"tickSize":-7,"labels":false,"title":null}}}},
  {"mark":{"type":"line","opacity":0},
   "encoding":{"x":{"field":"t","type":"quantitative","axis":null},
    "y":{"field":"d","type":"quantitative","axis":{"orient":"left","values":[1140,1160,1180,1200,1220,1240,1260,1280,1300,1320,1340,1360,1380],"tickSize":-4,"labels":false,"title":null}}}},
  {"mark":{"type":"line","opacity":0},
   "encoding":{"x":{"field":"t","type":"quantitative","axis":null},
    "y":{"field":"d","type":"quantitative","axis":{"orient":"right","values":[1140,1160,1180,1200,1220,1240,1260,1280,1300,1320,1340,1360,1380],"tickSize":-4,"labels":false,"title":null}}}},
  {"data":{"values":[{"lab":"TH3"}]},
   "mark":{"type":"text","align":"right","baseline":"top","dy":3,"font":"Liberation Sans","fontSize":15,"color":"black"},
   "encoding":{"x":{"datum":458,"type":"quantitative","axis":null},"y":{"datum":1398,"type":"quantitative","axis":null},"text":{"field":"lab"}}}
 ],
 "resolve":{"axis":{"x":"independent","y":"independent"}}
},
{"width":605,"height":90,
 "layer":[
  {"mark":{"type":"line","color":"#ff00ff","strokeWidth":1.3,"clip":true},
   "encoding":{"x":{"field":"t","type":"quantitative","scale":{"domain":[-525,468],"nice":false,"zero":false},"axis":{"orient":"bottom","values":[-500,-400,-300,-200,-100,0,100,200,300,400],"tickSize":-5,"labelPadding":11,"labelExpr":"datum.value % 200 === 0 ? datum.label : ''","title":"Time [sec] 0 = 2010/02/04 00:33:45","titlePadding":1,"titleX":292}},
    "y":{"field":"e","type":"quantitative","scale":{"domain":[3067,3453],"nice":false,"zero":false},"axis":{"orient":"left","values":[3100,3200,3300,3400],"format":"d","tickSize":-7,"labelPadding":18,"title":null}}}},
  {"mark":{"type":"line","opacity":0},
   "encoding":{"x":{"field":"t","type":"quantitative","axis":{"orient":"top","values":[-500,-400,-300,-200,-100,0,100,200,300,400],"tickSize":-5,"labels":false,"title":null}},
    "y":{"field":"e","type":"quantitative","axis":{"orient":"right","values":[3100,3200,3300,3400],"tickSize":-7,"labels":false,"title":null}}}},
  {"mark":{"type":"line","opacity":0},
   "encoding":{"x":{"field":"t","type":"quantitative","axis":null},
    "y":{"field":"e","type":"quantitative","axis":{"orient":"left","values":[3080,3100,3120,3140,3160,3180,3200,3220,3240,3260,3280,3300,3320,3340,3360,3380,3400,3420,3440],"tickSize":-4,"labels":false,"title":null}}}},
  {"mark":{"type":"line","opacity":0},
   "encoding":{"x":{"field":"t","type":"quantitative","axis":null},
    "y":{"field":"e","type":"quantitative","axis":{"orient":"right","values":[3080,3100,3120,3140,3160,3180,3200,3220,3240,3260,3280,3300,3320,3340,3360,3380,3400,3420,3440],"tickSize":-4,"labels":false,"title":null}}}},
  {"data":{"values":[{"lab":"TH0123"}]},
   "mark":{"type":"text","align":"right","baseline":"top","dy":3,"font":"Liberation Sans","fontSize":15,"color":"black"},
   "encoding":{"x":{"datum":458,"type":"quantitative","axis":null},"y":{"datum":3453,"type":"quantitative","axis":null},"text":{"field":"lab"}}}
 ],
 "resolve":{"axis":{"x":"independent","y":"independent"}}
}
],
"config":{
 "view":{"stroke":"black","strokeWidth":1},
 "axis":{"domain":false,"grid":false,"tickColor":"black","tickWidth":1,"labelColor":"black","labelFont":"Liberation Sans","labelFontSize":14.5,"labelOverlap":false,"labelFlush":false,"titleFont":"Liberation Sans","titleFontSize":15.5,"titleFontWeight":"normal","titleColor":"black"}
}
}
